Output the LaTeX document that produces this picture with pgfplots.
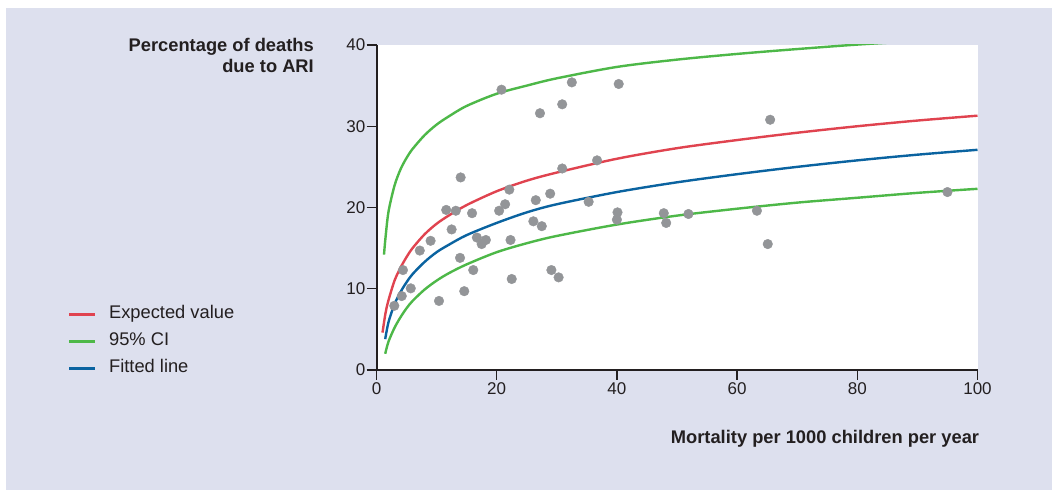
\documentclass[border=0pt]{standalone}
\usepackage{fontspec}
\setmainfont{Liberation Sans}
\usepackage{pgfplots}
\pgfplotsset{compat=1.18}
\definecolor{bgc}{HTML}{DDE0EE}
\definecolor{cred}{HTML}{E0434F}
\definecolor{cgreen}{HTML}{4DB848}
\definecolor{cblue}{HTML}{0A63A0}
\definecolor{cdot}{HTML}{939598}
\definecolor{ctxt}{HTML}{231F20}
\begin{document}
\begin{tikzpicture}
\fill[white] (0pt,0pt) rectangle (1052pt,490pt);
\fill[bgc] (6pt,0pt) rectangle (1052pt,482pt);
\begin{axis}[
  at={(376.5pt,120pt)}, anchor=south west,
  scale only axis, width=601pt, height=325pt,
  xmin=0, xmax=100, ymin=0, ymax=40,
  axis x line*=bottom, axis y line*=left,
  axis line style={line width=2pt, ctxt},
  axis background/.style={fill=white},
  xtick={0,20,...,100}, ytick={0,10,...,40},
  tick align=outside, major tick length=10pt,
  tick style={line width=1.3pt, ctxt},
  /pgf/number format/assume math mode=true,
  ticklabel style={font=\fontsize{17}{20}\selectfont, text=ctxt},
  yticklabel style={inner sep=1pt},
  xticklabel style={inner sep=2pt},
  legend cell align=left,
  legend image code/.code={\draw[#1] (0pt,0pt) -- (26pt,0pt);},
  legend style={at={(axis description cs:-0.5133,0.195)}, anchor=north west,
    draw=none, fill=none, inner sep=0pt, row sep=12pt,
    font=\fontsize{18.3}{21}\selectfont, text=ctxt,
    nodes={inner sep=0pt, text height=12pt, text depth=3pt},
    /tikz/every odd column/.style={column sep=12.5pt}},
]
\addplot[cred, line width=2.4pt, smooth] coordinates {
(1,4.6) (1.5,7.0) (2,8.6) (3,11.0) (4,12.6) (5,13.9) (6,15.0) (8,16.7) (10,18.0) (12,19.0) (15,20.3) (20,22.0) (25,23.3) (30,24.3) (40,26.0) (50,27.3) (60,28.3) (70,29.2) (80,30.0) (90,30.7) (100,31.3)};
\addlegendentry{Expected value}
\addplot[cgreen, line width=2.4pt, smooth] coordinates {
(1.25,14.2) (1.5,16.3) (2,19.5) (3,22.7) (4,24.7) (5,26.1) (6,27.2) (8,28.9) (10,30.2) (12,31.2) (15,32.5) (20,34.0) (25,35.0) (30,35.9) (40,37.3) (50,38.2) (60,38.9) (70,39.5) (80,40.05) (90,40.5) (100,41.0)};
\addlegendentry{95\% CI}
\addplot[cgreen, line width=2.4pt, smooth, forget plot] coordinates {
(1.45,2.0) (2,3.5) (3,5.2) (4,6.5) (5,7.6) (6,8.5) (8,9.9) (10,11.0) (12,11.9) (15,13.0) (20,14.5) (25,15.6) (30,16.5) (40,17.9) (50,19.0) (60,19.85) (70,20.6) (80,21.2) (90,21.8) (100,22.3)};
\addplot[cblue, line width=2.4pt, smooth] coordinates {
(1.45,3.8) (2,5.9) (3,8.1) (4,9.6) (5,10.8) (6,11.8) (8,13.3) (10,14.5) (12,15.4) (15,16.6) (20,18.1) (25,19.4) (30,20.4) (40,21.9) (50,23.1) (60,24.1) (70,25.0) (80,25.8) (90,26.5) (100,27.1)};
\addlegendentry{Fitted line}
\addplot[only marks, mark=*, mark size=4.8pt, cdot, forget plot] coordinates {
(2.96,7.9) (4.2,9.1) (4.4,12.3) (5.7,10.05) (7.2,14.7) (9.0,15.9) (10.4,8.5) (11.6,19.7) (12.5,17.3) (13.2,19.6)
(14.0,23.7) (13.9,13.8) (14.6,9.7) (15.9,19.3) (16.1,12.3) (16.7,16.3) (17.5,15.5) (18.2,16.0) (20.4,19.6) (20.8,34.5)
(21.4,20.4) (22.1,22.2) (22.3,16.0) (22.5,11.2) (26.1,18.3) (26.5,20.9) (27.2,31.6) (27.5,17.7) (28.9,21.7) (29.1,12.3)
(30.3,11.4) (30.9,32.7) (30.9,24.8) (32.5,35.4) (35.3,20.7) (36.7,25.8) (40.1,19.4) (40.0,18.5) (40.3,35.2) (47.8,19.3)
(48.2,18.1) (51.9,19.2) (63.3,19.6) (65.1,15.5) (65.5,30.8) (95.0,21.9)};
\end{axis}
\node[anchor=base east, font=\fontsize{18.3}{21}\selectfont\bfseries, text=ctxt, inner sep=0pt] at (314pt,438pt) {Percentage of deaths};
\node[anchor=base east, font=\fontsize{18.3}{21}\selectfont\bfseries, text=ctxt, inner sep=0pt] at (314pt,417.7pt) {due to ARI};
\node[anchor=base east, font=\fontsize{18.3}{21}\selectfont\bfseries, text=ctxt, inner sep=0pt] at (979.3pt,46.7pt) {Mortality per 1000 children per year};
\end{tikzpicture}
\end{document}
